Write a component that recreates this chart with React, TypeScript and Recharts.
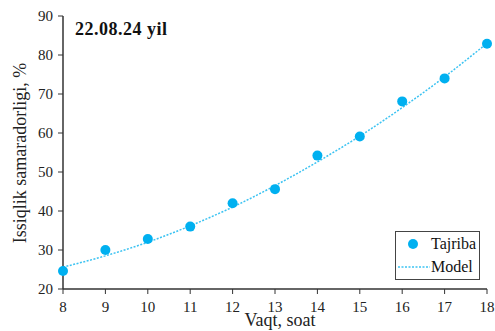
import {
  ComposedChart,
  Line,
  Scatter,
  XAxis,
  YAxis,
} from 'recharts'

const hours = [8, 9, 10, 11, 12, 13, 14, 15, 16, 17, 18]
// Tajriba (experiment) points
const measured = [24.6, 30, 32.8, 36, 42, 45.6, 54.2, 59.1, 68.1, 74, 82.9]
// Model curve values at each hour
const model = [25.6, 28.5, 32.0, 36.2, 41.0, 46.5, 52.6, 59.2, 66.5, 74.4, 83]

const xTicks = [8, 9, 10, 11, 12, 13, 14, 15, 16, 17, 18]
const yTicks = [20, 30, 40, 50, 60, 70, 80, 90]

const BLUE = '#00b0f0'
const LINE_BLUE = '#3cc3f2'
const FONT = '"Liberation Serif", "Times New Roman", serif'

const data = hours.map((h, i) => ({ hour: h, measured: measured[i], model: model[i] }))

function LegendBox() {
  return (
    <div
      style={{
        position: 'absolute',
        left: 395,
        top: 231,
        border: '1.5px solid #444',
        background: '#fff',
        width: 85,
        height: 49,
        fontFamily: FONT,
        fontSize: 16,
        color: '#111',
        boxSizing: 'border-box',
      }}
    >
      <div style={{ display: 'flex', alignItems: 'center', height: 24 }}>
        <svg width={35} height={14}>
          <circle cx={17} cy={7} r={5} fill={BLUE} />
        </svg>
        <span>Tajriba</span>
      </div>
      <div style={{ display: 'flex', alignItems: 'center', height: 22 }}>
        <svg width={35} height={10}>
          <line x1={2} x2={34} y1={5} y2={5} stroke={LINE_BLUE} strokeWidth={1.5} strokeDasharray="2 1.5" />
        </svg>
        <span>Model</span>
      </div>
    </div>
  )
}

export default function App() {
  return (
    <div style={{ position: 'absolute', left: 0, top: 0, width: 495, height: 331, background: '#fff' }}>
      <ComposedChart
        width={495}
        height={331}
        data={data}
        margin={{ top: 16, right: 8, bottom: 0, left: 0 }}
      >
        <XAxis
          dataKey="hour"
          type="number"
          domain={[8, 18]}
          ticks={xTicks}
          interval={0}
          height={42}
          tickSize={5}
          tickMargin={7}
          axisLine={{ stroke: '#333', strokeWidth: 1.5 }}
          tickLine={{ stroke: '#333' }}
          tick={{ fill: '#222', fontFamily: FONT, fontSize: 15 }}
          label={{
            content: () => (
              <text x={280} y={326} textAnchor="middle" fill="#222" fontFamily={FONT} fontSize={18}>
                Vaqt, soat
              </text>
            ),
          }}
        />
        <XAxis
          xAxisId="top"
          orientation="top"
          dataKey="hour"
          type="number"
          domain={[8, 18]}
          height={0}
          tick={false}
          tickLine={false}
          axisLine={{ stroke: '#888', strokeWidth: 1.5 }}
        />
        <YAxis
          type="number"
          domain={[20, 90]}
          ticks={yTicks}
          interval={0}
          width={63}
          tickSize={5}
          tickMargin={5}
          axisLine={{ stroke: '#333', strokeWidth: 1.5 }}
          tickLine={{ stroke: '#333' }}
          tick={{ fill: '#222', fontFamily: FONT, fontSize: 15 }}
          label={{
            content: () => (
              <text
                x={26}
                y={153}
                transform="rotate(-90 26 153)"
                textAnchor="middle"
                fill="#222"
                fontFamily={FONT}
                fontSize={18}
              >
                Issiqlik samaradorligi, %
              </text>
            ),
          }}
        />
        <YAxis
          yAxisId="right"
          orientation="right"
          domain={[20, 90]}
          width={0}
          tick={false}
          tickLine={false}
          axisLine={{ stroke: '#222', strokeWidth: 1.5 }}
        />
        <Line
          dataKey="model"
          type="monotone"
          stroke={LINE_BLUE}
          strokeWidth={1.5}
          strokeDasharray="2 1.5"
          dot={false}
          activeDot={false}
          isAnimationActive={false}
        />
        <Scatter
          dataKey="measured"
          fill={BLUE}
          shape={(p: any) => <circle cx={p.cx} cy={p.cy} r={5} fill={BLUE} />}
          isAnimationActive={false}
        />
      </ComposedChart>
      <LegendBox />
      <div
        style={{
          position: 'absolute',
          left: 75,
          top: 19,
          fontFamily: FONT,
          fontWeight: 'bold',
          fontSize: 18,
          letterSpacing: 0.5,
          color: '#111',
          whiteSpace: 'nowrap',
        }}
      >
        22.08.24 yil
      </div>
    </div>
  )
}
